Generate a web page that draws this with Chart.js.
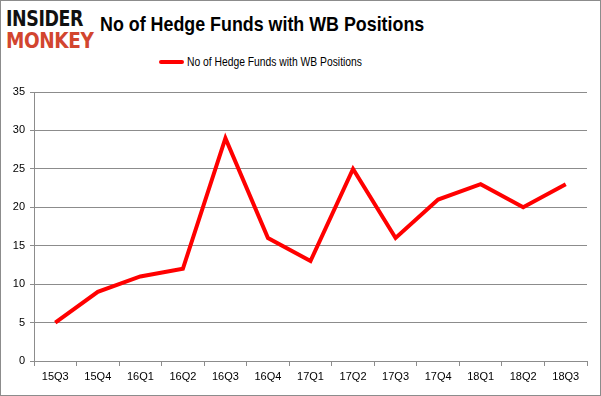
<!DOCTYPE html>
<html>
<head>
<meta charset="utf-8">
<script src="https://cdn.jsdelivr.net/npm/chart.js@4"></script>
<style>
  body { margin: 0; background: #fff; }
  #box { position: relative; width: 601px; height: 396px; box-sizing: border-box; border: 1px solid #8c8c8c; background: #fff; }
  #chart { position: absolute; left: 0; top: 0; }
  .logo { position: absolute; left: 5px; font-family: "DejaVu Sans"; font-weight: bold; letter-spacing: -0.5px; line-height: 1; transform-origin: left top; }
  #logo1 { top: 8px; font-size: 21px; color: #111; transform: scaleX(0.83); }
  #logo2 { top: 29px; font-size: 22px; color: #d2452f; transform: scaleX(0.84); }
  #title { position: absolute; left: 99px; top: 11px; font-family: "Liberation Sans", Arial, sans-serif; font-weight: bold; font-size: 21px; color: #000; white-space: nowrap; transform: scaleX(0.85); transform-origin: left top; }
  #legend { position: absolute; left: 158px; top: 54px; font-family: "Liberation Sans", Arial, sans-serif; font-size: 12px; color: #000; white-space: nowrap; }
  #legend span.swatch { display: inline-block; width: 25px; height: 4px; background: #ff0000; border-radius: 2px; vertical-align: middle; margin-right: 3px; position: relative; top: -1px; }
  #legend span.txt { display: inline-block; transform: scaleX(0.86); transform-origin: left center; }
</style>
</head>
<body>
<div id="box">
  <div class="logo" id="logo1">INSIDER</div>
  <div class="logo" id="logo2">MONKEY</div>
  <div id="title">No of Hedge Funds with WB Positions</div>
  <div id="legend"><span class="swatch"></span><span class="txt">No of Hedge Funds with WB Positions</span></div>
  <canvas id="chart" width="601" height="396"></canvas>
</div>
<script>
// Quartale und Anzahl Hedgefonds
const quartale = ["15Q3", "15Q4", "16Q1", "16Q2", "16Q3", "16Q4", "17Q1", "17Q2", "17Q3", "17Q4", "18Q1", "18Q2", "18Q3"];
const anzahlFonds = [5, 9, 11, 12, 29, 16, 13, 25, 16, 21, 23, 20, 23];
const yTicks = [0, 5, 10, 15, 20, 25, 30, 35];

const tickFont = { family: "Liberation Sans, Arial, sans-serif", size: 11 };

const ctx = document.getElementById('chart').getContext('2d');
new Chart(ctx, {
  type: 'line',
  data: {
    labels: quartale,
    datasets: [{
      label: "No of Hedge Funds with WB Positions",
      data: anzahlFonds,
      borderColor: "#ff0000",
      backgroundColor: "#ff0000",
      borderWidth: 4,
      pointRadius: 0,
      tension: 0,
      fill: false
    }]
  },
  options: {
    responsive: false,
    animation: false,
    layout: { padding: { top: 91, right: 15, left: 0, bottom: 0 } },
    plugins: {
      legend: { display: false },
      tooltip: { enabled: false }
    },
    scales: {
      x: {
        offset: true,
        afterFit: s => { s.height = 36; },
        grid: { drawOnChartArea: false, drawTicks: true, tickLength: 5, color: "#8c8c8c", offset: true },
        border: { color: "#8c8c8c" },
        ticks: { color: "#000", font: tickFont, padding: 4, maxRotation: 0 }
      },
      y: {
        min: 0,
        max: 35,
        afterFit: s => { s.width = 33; },
        afterBuildTicks: s => { s.ticks = yTicks.map(v => ({ value: v })); },
        grid: { color: "#8c8c8c", tickLength: 4 },
        border: { color: "#8c8c8c" },
        ticks: { color: "#000", font: tickFont, padding: 5 }
      }
    }
  }
});
</script>
</body>
</html>
